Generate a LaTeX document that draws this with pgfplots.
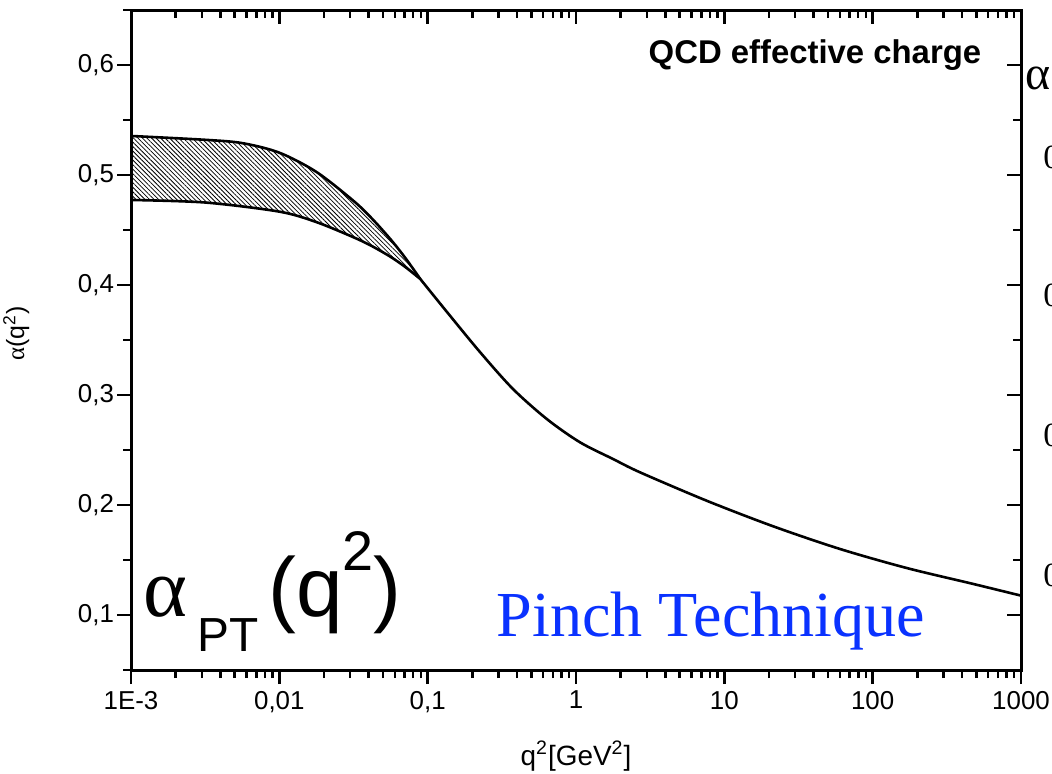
\documentclass[border=0pt]{standalone}
\usepackage{fontspec}
\setmainfont{Liberation Sans}
\newfontfamily\serif{Liberation Serif}
\usepackage{pgfplots}
\pgfplotsset{compat=1.18}
\usepgfplotslibrary{fillbetween}
\usetikzlibrary{patterns.meta}
\definecolor{ptblue}{RGB}{10,50,255}

% effective charge: band edges at low q^2 and the common curve
\pgfplotstableread{
x         y
0.001     0.5355
0.003162  0.5320
0.005623  0.5290
0.01      0.5203
0.01778   0.5028
0.03162   0.4765
0.04217   0.4603
0.05623   0.4415
0.07079   0.4245
0.08913   0.4055
}\upperband
\pgfplotstableread{
x         y
0.001     0.4773
0.003162  0.4750
0.01      0.4667
0.01778   0.4572
0.03162   0.4434
0.04217   0.4353
0.05623   0.4256
0.07079   0.4163
0.08913   0.4055
}\lowerband
\pgfplotstableread{
x        y
0.08913  0.4055
0.1349   0.3755
0.2254   0.3390
0.3758   0.3055
0.6380   0.2780
1.064    0.2570
1.778    0.2418
2.702    0.2297
7.600    0.2039
21.38    0.1806
60.26    0.1600
169.8    0.1427
477.5    0.1282
1000     0.1176
}\pinch

\begin{document}
\begin{tikzpicture}
\begin{axis}[
  at={(0,0)}, anchor=south west,
  width=445bp, height=330bp, scale only axis,
  xmode=log, log basis x=10,
  xmin=1e-3, xmax=1000, ymin=0.05, ymax=0.65,
  xtick={1e-3,1e-2,1e-1,1,10,100,1000},
  minor xtick={2e-3,3e-3,4e-3,5e-3,6e-3,7e-3,8e-3,9e-3,
               2e-2,3e-2,4e-2,5e-2,6e-2,7e-2,8e-2,9e-2,
               0.2,0.3,0.4,0.5,0.6,0.7,0.8,0.9,
               2,3,4,5,6,7,8,9,
               20,30,40,50,60,70,80,90,
               200,300,400,500,600,700,800,900},
  ytick={0.1,0.2,0.3,0.4,0.5,0.6},
  minor ytick={0.05,0.15,0.25,0.35,0.45,0.55,0.65},
  major tick length=7bp, minor tick length=4bp,
  every tick/.style={line width=1.2bp, black},
  axis line style={line width=1.5bp},
  tick align=outside,
  xtick pos=left, ytick pos=left,
  xticklabels={1E-3,{0,01},{0,1},1,10,100,1000},
  yticklabels={{0,1},{0,2},{0,3},{0,4},{0,5},{0,6}},
  tick label style={font=\fontsize{13}{15}\selectfont},
  yticklabel style={xshift=2bp},
  /pgf/number format/assume math mode=true,
  xlabel={q\textsuperscript{2}[GeV\textsuperscript{2}]},
  xlabel style={font=\fontsize{14}{16}\selectfont,
    at={(axis description cs:0.5,-0.144)}, anchor=base},
  ylabel={{\serif α}(q\textsuperscript{2})},
  ylabel style={font=\fontsize{12.5}{14}\selectfont,
    at={(axis description cs:-0.129,0.51)}, anchor=center},
]
\addplot [name path=upper, black, line width=1.3bp, smooth] table {\upperband};
\addplot [name path=lower, black, line width=1.3bp, smooth] table {\lowerband};
\addplot [pattern={Lines[angle=-45, distance=1.6bp, line width=0.4bp]}, draw=none]
  fill between [of=upper and lower];
\addplot [black, line width=1.3bp, smooth] table {\pinch};

\node [anchor=base, font=\bfseries\fontsize{16.5}{18}\selectfont]
  at (rel axis cs:0.7685,0.9197) {QCD effective charge};
\node [anchor=base, text=ptblue, font=\serif\fontsize{32.2}{34}\selectfont]
  at (rel axis cs:0.6517,0.0515) {Pinch Technique};
\node [anchor=base west, inner sep=0pt] at (rel axis cs:0.0135,0.0803)
  {{\serif\fontsize{42}{42}\selectfont α}\hspace{5bp}%
   \raisebox{-17.5bp}{\fontsize{24}{24}\selectfont PT}\hspace{5bp}%
   {\fontsize{42}{42}\selectfont (q\raisebox{23bp}{\fontsize{28}{28}\selectfont 2})}};
\end{axis}

% mirrored ticks on the top and right, pointing inward
\begin{axis}[
  at={(0,0)}, anchor=south west,
  width=445bp, height=330bp, scale only axis,
  xmode=log, log basis x=10,
  xmin=1e-3, xmax=1000, ymin=0.05, ymax=0.65,
  xtick={1e-3,1e-2,1e-1,1,10,100,1000},
  minor xtick={2e-3,3e-3,4e-3,5e-3,6e-3,7e-3,8e-3,9e-3,
               2e-2,3e-2,4e-2,5e-2,6e-2,7e-2,8e-2,9e-2,
               0.2,0.3,0.4,0.5,0.6,0.7,0.8,0.9,
               2,3,4,5,6,7,8,9,
               20,30,40,50,60,70,80,90,
               200,300,400,500,600,700,800,900},
  ytick={0.1,0.2,0.3,0.4,0.5,0.6},
  minor ytick={0.05,0.15,0.25,0.35,0.45,0.55,0.65},
  major tick length=7bp, minor tick length=4bp,
  every tick/.style={line width=1.2bp, black},
  axis line style={draw=none},
  tick align=inside,
  xtick pos=right, ytick pos=right,
  xticklabels={}, yticklabels={},
]
\addplot [draw=none] table {\pinch};
\end{axis}

% edge of the neighbouring panel
\node [anchor=base west, inner sep=0pt, font=\serif\fontsize{24}{24}\selectfont]
  at (447bp,290bp) {α};
\foreach \v/\yy in {5/250.5, 4/181.5, 3/111.5, 2/41.5}
  \node [anchor=base west, inner sep=0pt, font=\serif\fontsize{17}{17}\selectfont]
    at (456bp,\yy bp) {0,\v};

\pgfresetboundingbox
\useasboundingbox (-65.5bp,-52bp) rectangle (460.5bp,335bp);
\end{tikzpicture}
\end{document}
